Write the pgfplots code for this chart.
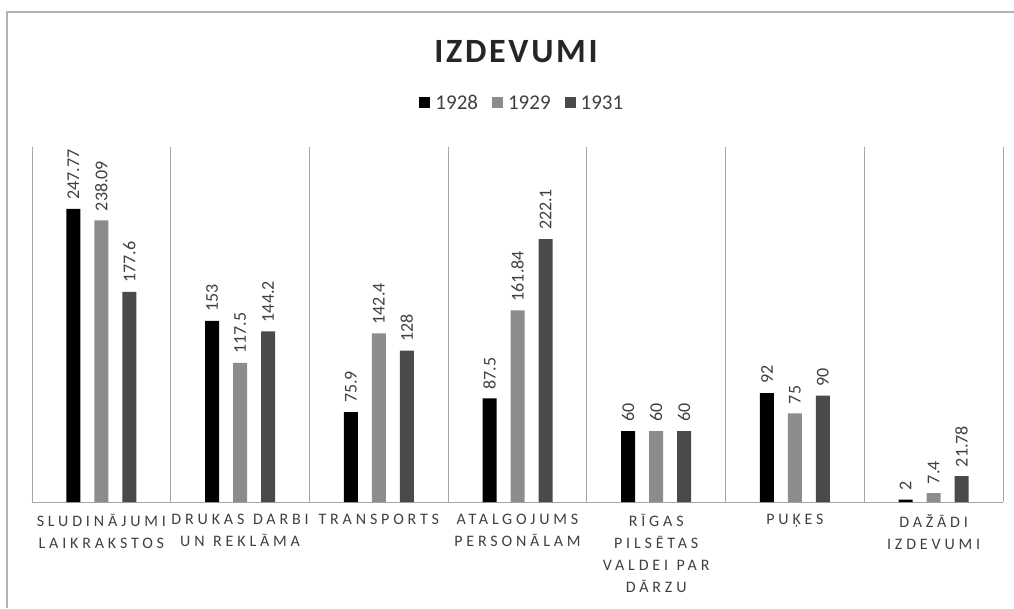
\documentclass[border=0pt]{standalone}
\usepackage{pgfplots}
\pgfplotsset{compat=1.18}
\usepackage{fontspec}
\setmainfont{Carlito}
\newfontfamily\spaced[LetterSpace=24, WordSpace=1.15]{Carlito}
\newfontfamily\titlefont[LetterSpace=8]{Carlito}
\definecolor{cA}{HTML}{000000}
\definecolor{cB}{HTML}{8C8C8C}
\definecolor{cC}{HTML}{4A4A4A}
\definecolor{txt}{HTML}{404040}
\definecolor{gridc}{HTML}{A6A6A6}
\begin{document}
\begin{tikzpicture}[x=1pt,y=1pt]
\fill[white] (0,0) rectangle (1014,608);
\useasboundingbox (0,0) rectangle (1014,608);
\draw[color=gray!60, line width=1.2pt] (7,0) -- (7,596) -- (1014,596);
\node[font={\titlefont\bfseries\fontsize{34}{38}\selectfont}, text=black!85] at (516,556) {IZDEVUMI};
\begin{axis}[
  at={(32pt,106pt)}, anchor=south west,
  scale only axis, width=971pt, height=355pt,
  ybar=14pt, bar width=14pt,
  xmin=-0.5, xmax=6.5, ymin=0, ymax=300,
  axis x line*=bottom, axis y line=none,
  x axis line style={gridc, line width=0.8pt, -},
  xtick={0,...,6}, major tick length=0pt,
  minor xtick={-0.5,0.5,...,6.5},
  minor x grid style={gridc, line width=0.8pt},
  xminorgrids=true, minor tick length=0pt,
  xticklabels={
    {SLUDINĀJUMI\\LAIKRAKSTOS},
    {DRUKAS DARBI\\UN REKLĀMA},
    {TRANSPORTS},
    {ATALGOJUMS\\PERSONĀLAM},
    {RĪGAS\\PILSĒTAS\\VALDEI PAR\\DĀRZU},
    {PUĶES},
    {DAŽĀDI\\IZDEVUMI}},
  xticklabel style={align=center, font={\spaced\fontsize{16}{22}\selectfont}, text=txt, yshift=-9pt},
  /pgf/number format/assume math mode=true,
  nodes near coords,
  nodes near coords style={rotate=90, anchor=west, font={\fontsize{18}{20}\selectfont}, text=txt, inner sep=0pt, xshift=9pt},
  legend style={at={(0.505,1.124)}, anchor=center, draw=none, legend columns=3,
    font={\fontsize{21}{23}\selectfont}, text=txt,
    /tikz/every odd column/.append style={column sep=3pt},
    /tikz/every even column/.append style={column sep=12pt}},
  legend image code/.code={\fill[#1] (0pt,-5.5pt) rectangle (11pt,5.5pt);},
]
\addplot[fill=cA, draw=none] coordinates {(0,247.77) (1,153) (2,75.9) (3,87.5) (4,60) (5,92) (6,2)};
\addplot[fill=cB, draw=none] coordinates {(0,238.09) (1,117.5) (2,142.4) (3,161.84) (4,60) (5,75) (6,7.4)};
\addplot[fill=cC, draw=none] coordinates {(0,177.6) (1,144.2) (2,128) (3,222.1) (4,60) (5,90) (6,21.78)};
\legend{1928,1929,1931}
\end{axis}
\end{tikzpicture}
\end{document}
